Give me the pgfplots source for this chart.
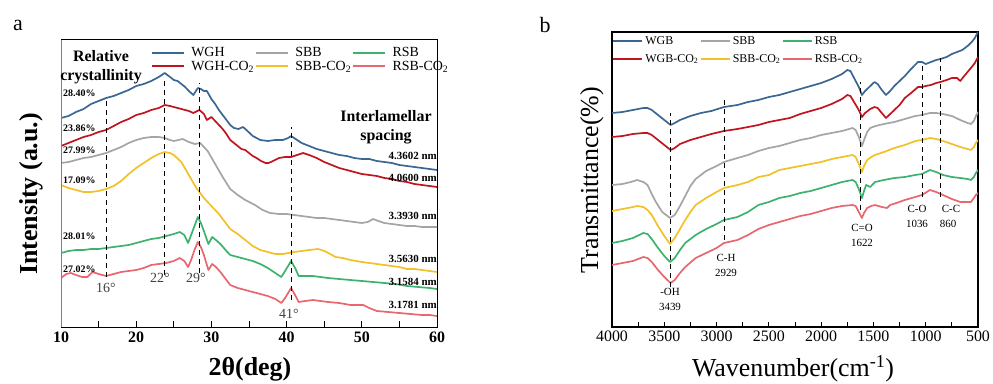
\documentclass[border=0pt]{standalone}
\usepackage{fontspec}
\setmainfont{Liberation Serif}
\usepackage{pgfplots}
\pgfplotsset{compat=1.18}
\definecolor{cB}{RGB}{58,102,146}
\definecolor{cR}{RGB}{192,20,30}
\definecolor{cG}{RGB}{165,165,165}
\definecolor{cY}{RGB}{242,192,40}
\definecolor{cN}{RGB}{60,178,110}
\definecolor{cP}{RGB}{232,102,110}
\newcommand{\fs}[1]{\fontsize{#1}{#1}\selectfont}
\pgfplotsset{
  common/.style={
    scale only axis, anchor=south west,
    ytick=\empty, xtick pos=left, tick align=inside,
    major tick length=6bp, minor tick length=6bp,
    tick style={black, line width=0.8bp},
    /pgf/number format/assume math mode=true,
    /pgf/number format/1000 sep={},
    legend columns=3,
    legend cell align=left,
    legend image code/.code={\draw[#1, line width=2bp] (0bp,0bp) -- (32bp,0bp);},
  },
}
\begin{document}
\begin{tikzpicture}[x=1bp,y=1bp]
\path[use as bounding box] (0,0) rectangle (993,383);
% ---------------- panel a
\begin{axis}[common, at={(61bp,56bp)}, width=376bp, height=287bp,
  xmin=10, xmax=60, ymin=0, ymax=287,
  xtick={10,20,...,60}, minor xtick={15,25,...,55},
  xticklabel style={font=\bfseries\fs{16}, yshift=-1bp},
  axis line style={line width=1bp, black},
  legend style={at={(0.239,0.978)}, anchor=north west, draw=none, fill=none,
    font=\fs{14}, inner sep=0pt, row sep=0bp,
    nodes={inner sep=1.2bp},
    /tikz/every even column/.append style={column sep=0bp},
    /tikz/every odd column/.append style={column sep=5bp}},
  every axis plot/.append style={line width=1.7bp, line join=round}]
\addplot[cB] coordinates {(10,209) (11,211) (12,215) (13,218) (14,223) (15,226) (16,229) (17,231) (18,234) (19,237) (20,241) (21,243) (22,246) (23,250) (23.8,254) (24.5,250) (25,247) (25.5,246) (26,243) (26.5,240) (27,236) (27.6,232) (28.2,239) (28.6,238) (29,236) (29.4,236) (30,228) (30.5,223) (31,217) (31.5,212) (32,207) (32.5,202) (33,199) (33.6,198) (34.2,200) (34.8,196) (35.5,191) (36.5,187) (37.5,186) (38.5,187) (39.5,187) (40.2,189) (40.6,191) (41.2,188) (42,184) (43,181) (44,178) (45,176) (46,174) (47,172) (48,171) (49,169) (50,168) (51,168) (52,166) (53,165) (54,164) (55,162) (56,161) (57,160) (58,159) (59,158) (60,157)};
\addlegendentry{WGH}
\addplot[cG] coordinates {(10,164) (11,165) (12,167) (13,169) (14,170) (15,172) (16,174) (17,177) (18,180) (19,184) (20,187) (21,189) (22,190) (23,190) (23.8,189) (24.5,187) (25,186) (25.6,187) (26.2,188) (27,185) (27.8,183) (28.5,184) (29.5,176) (30.5,163) (31.5,150) (32.5,138) (33.5,132) (34.5,127) (35.8,122) (36.8,117) (37.8,114) (39,113) (40,113) (41,112) (42,111) (43,110) (44,109) (45,109) (46,108) (47,107) (48,106) (49,105) (50,104) (50.8,105) (51.5,108) (52.2,106) (53,104) (54,103) (55,102) (56,101) (57,101) (58,100) (59,100) (60,100)};
\addlegendentry{SBB}
\addplot[cN] coordinates {(10,74) (11,76) (12,77) (13,77) (14,78) (15,78) (16,79) (17,80) (18,81) (19,82) (20,84) (21,86) (22,88) (23,89) (24,91) (25,93) (25.8,95) (26.4,92) (26.9,84) (27.3,92) (27.8,102) (28.2,110) (28.6,104) (29.0,96) (29.6,83) (30.1,90) (30.6,87) (31.2,83) (32,76) (32.5,72) (33.5,70) (34.5,68) (35.5,66) (36.5,63) (37.5,59) (38.5,54) (39.3,50) (39.8,56) (40.6,66) (41.2,58) (41.6,51) (42.5,51) (43.5,51) (44.5,50) (45.5,49) (47,48) (48.5,47) (50,46) (51.5,45) (53,44) (54.5,43) (56,41) (57.5,40) (59,39) (60,38)};
\addlegendentry{RSB}
\addplot[cR] coordinates {(10,181) (11,184) (12,187) (13,190) (14,192) (15,195) (16,197) (17,201) (18,205) (19,208) (20,212) (21,214) (22,217) (23,219) (23.8,222) (24.5,221) (25,220) (26,218) (27,216) (27.6,214) (28.4,217) (29,213) (29.4,207) (30,210) (30.5,206) (31,202) (31.5,198) (32,193) (32.5,187) (33,184) (33.5,181) (34,178) (34.5,177) (35,174) (35.5,171) (36,169) (36.6,166) (37.2,164) (37.6,164) (38.2,166) (39,169) (39.8,170) (40.6,170) (41.4,172) (42.2,174) (43,172) (44,169) (45,165) (46,162) (47,159) (48,157) (49,155) (50,153) (51,152) (52,151) (53,149) (54,148) (55,146) (56,145) (57,143) (58,142) (59,141) (60,140)};
\addlegendentry{WGH-CO\textsubscript{2}}
\addplot[cY] coordinates {(10,142) (11,139) (12,137) (13,135) (14,135) (15,136) (16,138) (17,141) (18,146) (19,153) (20,159) (21,164) (22,169) (23,173) (23.8,175) (24.5,174) (25,172) (26,165) (27,152) (28,139) (29,129) (30,121) (31,113) (32,103) (32.5,98) (33.5,93) (34.5,87) (35.5,81) (36.5,77) (37.5,75) (38.5,73) (39.5,73) (40.2,74) (41,75) (42,76) (43,77) (44.2,78) (45,76) (45.8,73) (46.5,70) (47.5,69) (48.5,67) (50,65) (51,64) (52,63) (53,62) (54,61) (55,60) (56,58) (57,58) (58,57) (59,56) (60,55)};
\addlegendentry{SBB-CO\textsubscript{2}}
\addplot[cP] coordinates {(10,49) (10.7,53) (11.3,54) (12,52) (12.8,50) (13.5,50) (14.2,55) (15,53) (16,51) (17,53) (18,55) (19,56) (20,57) (21,59) (22,62) (23,63) (24,64) (25,66) (25.8,69) (26.4,66) (26.9,60) (27.3,67) (27.8,78) (28.2,85) (28.6,80) (29.0,72) (29.6,57) (30.1,63) (30.6,60) (31.2,55) (32,47) (32.5,42) (33.5,39) (34.5,37) (35.5,35) (36.5,33) (37.5,31) (38.5,28) (39.3,24) (39.8,29) (40.6,39) (41.2,31) (41.6,25) (42.5,26) (43.5,27) (44.5,26) (45.5,25) (47,24) (48.5,22) (50.2,22) (51,19) (52,16) (53.5,15) (55,14) (56.5,13) (58,12) (59,12) (60,11)};
\addlegendentry{RSB-CO\textsubscript{2}}
\draw[dash pattern=on 5bp off 4bp, line width=0.9bp] (axis cs:16,50) -- (axis cs:16,230);
\draw[dash pattern=on 5bp off 4bp, line width=0.9bp] (axis cs:23.8,52) -- (axis cs:23.8,247);
\draw[dash pattern=on 5bp off 4bp, line width=0.9bp] (axis cs:28.4,54) -- (axis cs:28.4,244);
\draw[dash pattern=on 5bp off 4bp, line width=0.9bp] (axis cs:40.6,27) -- (axis cs:40.6,200);
\draw[gray, line width=1.2bp] (rel axis cs:0,0) -- (rel axis cs:0,1);
\end{axis}
% ---------------- panel b
\begin{axis}[common, at={(612bp,56bp)}, width=366bp, height=295bp,
  xmin=500, xmax=4000, x dir=reverse, ymin=0, ymax=295,
  xtick={500,1000,...,4000}, minor xtick={750,1250,...,3750},
  major tick length=5bp, minor tick length=5bp,
  xticklabel style={font=\fs{16}},
  axis line style={line width=1.4bp, black},
  legend style={at={(0.0,0.99)}, anchor=north west, draw=none, fill=none,
    font=\fs{12}, inner sep=0pt, row sep=6bp,
    nodes={inner sep=1.2bp},
    /tikz/every even column/.append style={column sep=0bp},
    /tikz/every odd column/.append style={column sep=1bp}},
  legend image code/.code={\draw[#1, line width=2bp] (0bp,0bp) -- (29bp,0bp);},
  every axis plot/.append style={line width=1.7bp, line join=round}]
\addplot[cB] coordinates {(4000,214) (3900,215) (3800,217) (3700,219) (3660,219) (3620,217) (3560,212) (3500,207) (3440,202) (3400,204) (3350,207) (3250,211) (3150,214) (3050,216) (2929,220) (2800,222) (2700,225) (2600,227) (2500,230) (2400,232) (2300,235) (2200,238) (2100,241) (2000,244) (1900,248) (1800,253) (1750,257) (1720,256) (1680,248) (1640,240) (1610,232) (1580,236) (1530,241) (1490,245) (1460,243) (1420,237) (1380,232) (1340,236) (1300,241) (1250,246) (1200,251) (1140,258) (1074,265) (1036,265) (1000,263) (950,265) (900,267) (860,268) (800,270) (750,273) (700,275) (650,277) (600,281) (560,285) (530,289) (510,293) (500,295)};
\addlegendentry{WGB}
\addplot[cG] coordinates {(4000,142) (3900,143) (3820,145) (3760,147) (3700,145) (3660,142) (3620,133) (3580,125) (3520,115) (3445,109) (3400,112) (3350,121) (3300,131) (3250,141) (3200,148) (3100,156) (3000,161) (2929,165) (2800,169) (2700,172) (2600,176) (2500,179) (2400,181) (2300,184) (2200,187) (2100,189) (2000,192) (1900,194) (1800,196) (1700,199) (1670,197) (1640,190) (1610,181) (1590,187) (1560,195) (1530,199) (1480,201) (1400,203) (1300,205) (1200,208) (1100,211) (1036,212) (960,214) (900,214) (835,213) (750,211) (670,207) (600,204) (567,203) (540,206) (520,211) (500,215)};
\addlegendentry{SBB}
\addplot[cN] coordinates {(4000,84) (3900,86) (3800,89) (3700,94) (3660,93) (3620,88) (3560,79) (3500,71) (3445,65) (3400,69) (3350,77) (3300,84) (3200,92) (3100,98) (3000,103) (2929,107) (2800,110) (2700,115) (2600,122) (2500,125) (2400,129) (2300,131) (2200,134) (2100,136) (2000,139) (1900,142) (1800,145) (1700,147) (1670,145) (1640,138) (1610,129) (1590,136) (1570,142) (1530,140) (1485,145) (1400,147) (1300,149) (1200,150) (1100,152) (1036,153) (960,157) (900,155) (835,152) (750,150) (670,149) (600,148) (567,147) (540,150) (520,154) (500,157)};
\addlegendentry{RSB}
\addplot[cR] coordinates {(4000,190) (3900,191) (3800,193) (3700,194) (3660,194) (3620,192) (3560,187) (3500,182) (3440,177) (3400,179) (3350,183) (3250,187) (3150,190) (3050,193) (2929,196) (2800,198) (2700,200) (2600,202) (2500,205) (2400,207) (2300,209) (2200,213) (2100,216) (2000,219) (1900,223) (1800,228) (1750,232) (1720,231) (1680,224) (1640,217) (1610,210) (1580,214) (1530,218) (1490,220) (1460,219) (1420,214) (1380,209) (1340,213) (1300,217) (1250,222) (1200,229) (1140,234) (1074,240) (1036,240) (1000,241) (950,242) (900,244) (860,245) (800,247) (750,249) (700,249) (670,246) (640,250) (600,255) (560,260) (530,264) (510,268) (500,270)};
\addlegendentry{WGB-CO\textsubscript{2}}
\addplot[cY] coordinates {(4000,116) (3900,118) (3800,120) (3760,121) (3700,120) (3660,117) (3620,112) (3560,101) (3500,91) (3445,83) (3400,89) (3350,98) (3300,107) (3250,115) (3200,122) (3100,129) (3000,135) (2929,139) (2800,142) (2700,145) (2600,150) (2500,152) (2400,157) (2300,159) (2200,161) (2100,163) (2000,165) (1900,168) (1800,170) (1700,172) (1670,170) (1640,163) (1610,155) (1590,161) (1560,167) (1520,170) (1485,172) (1400,175) (1300,179) (1200,182) (1100,186) (1036,187) (960,189) (900,188) (835,186) (750,183) (670,180) (600,178) (567,177) (540,180) (520,184) (500,187)};
\addlegendentry{SBB-CO\textsubscript{2}}
\addplot[cP] coordinates {(4000,62) (3900,64) (3800,66) (3700,70) (3660,69) (3620,65) (3560,57) (3500,50) (3440,44) (3400,47) (3350,54) (3300,60) (3200,69) (3100,74) (3000,79) (2929,84) (2800,87) (2700,92) (2600,98) (2500,102) (2400,105) (2300,108) (2200,111) (2100,113) (2000,116) (1900,119) (1800,121) (1700,122) (1670,121) (1640,115) (1610,109) (1590,114) (1560,119) (1520,121) (1485,122) (1420,120) (1370,119) (1340,122) (1280,124) (1200,127) (1100,130) (1036,132) (960,137) (900,135) (835,132) (750,128) (670,125) (600,125) (567,125) (540,129) (520,132) (500,134)};
\addlegendentry{RSB-CO\textsubscript{2}}
\draw[dash pattern=on 5bp off 4bp, line width=0.9bp] (axis cs:3439,40) -- (axis cs:3439,214);
\draw[dash pattern=on 5bp off 4bp, line width=0.9bp] (axis cs:2929,87) -- (axis cs:2929,227);
\draw[dash pattern=on 5bp off 4bp, line width=0.9bp] (axis cs:1622,117) -- (axis cs:1622,245);
\draw[dash pattern=on 5bp off 4bp, line width=0.9bp] (axis cs:1036,130) -- (axis cs:1036,265);
\draw[dash pattern=on 5bp off 4bp, line width=0.9bp] (axis cs:860,130) -- (axis cs:860,269);
\end{axis}
% ---------------- text, panel a
\node[font=\fs{22}] at (18,358) {a};
\node[font=\fs{22}] at (545,358) {b};
\node[font=\bfseries\fs{26}, rotate=90] at (31,189) {Intensity (a.u.)};
\node[font=\bfseries\fs{26}] at (250,14) {2θ(deg)};
\node[font=\bfseries\fontsize{16}{19}\selectfont, align=center, inner sep=0pt] at (101,315.5) {Relative\\crystallinity};
\node[font=\bfseries\fontsize{16}{19}\selectfont, align=center, inner sep=0pt] at (386,255.5) {Interlamellar\\spacing};
\begin{scope}[every node/.style={font=\bfseries\fs{10}, anchor=west, inner sep=0pt}]
\node at (63,290) {28.40\%};
\node at (63,255) {23.86\%};
\node at (63,233) {27.99\%};
\node at (63,203) {17.09\%};
\node at (63,147) {28.01\%};
\node at (63,114) {27.02\%};
\end{scope}
\begin{scope}[every node/.style={font=\bfseries\fs{11}, anchor=east, inner sep=0pt}]
\node at (437,227) {4.3602 nm};
\node at (437,205) {4.0600 nm};
\node at (437,167) {3.3930 nm};
\node at (437,124) {3.5630 nm};
\node at (437,101) {3.1584 nm};
\node at (437,78) {3.1781 nm};
\end{scope}
\begin{scope}[every node/.style={font=\fs{14}, text=black!75, inner sep=0pt}]
\node at (106,95) {16°};
\node at (160,105) {22°};
\node at (196,105) {29°};
\node at (289,69) {41°};
\end{scope}
% ---------------- text, panel b
\node[font=\fs{26}, rotate=90] at (592,203) {Transmittance(\%)};
\node[font=\fs{26}] at (793,14) {Wavenumber(cm\textsuperscript{-1})};
\begin{scope}[every node/.style={font=\fs{11}, inner sep=0pt}]
\node at (670,91) {-OH};
\node at (670,76) {3439};
\node at (726,125) {C-H};
\node at (726,110) {2929};
\node at (862,155) {C=O};
\node at (862,140) {1622};
\node at (917,174) {C-O};
\node at (917,159) {1036};
\node at (951,174) {C-C};
\node at (948,159) {860};
\end{scope}
\end{tikzpicture}
\end{document}
